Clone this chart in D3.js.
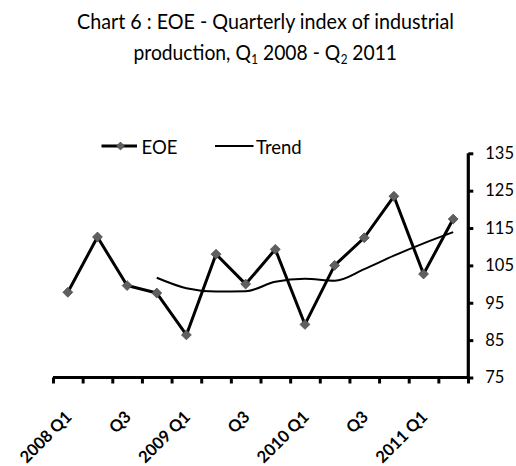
<!DOCTYPE html>
<html>
<head>
<meta charset="utf-8">
<script src="https://cdn.jsdelivr.net/npm/d3@7"></script>
<style>
  html, body { margin: 0; padding: 0; background: #fff; }
  svg { display: block; }
  text { font-family: Lato, "Open Sans", sans-serif; fill: #000; }
</style>
</head>
<body>
<div id="chart"></div>
<script>
// ---- Data ----
const categories = ["2008 Q1","2008 Q2","2008 Q3","2008 Q4",
                    "2009 Q1","2009 Q2","2009 Q3","2009 Q4",
                    "2010 Q1","2010 Q2","2010 Q3","2010 Q4",
                    "2011 Q1","2011 Q2"];
const tickLabels = ["2008 Q1","","Q3","","2009 Q1","","Q3","","2010 Q1","","Q3","","2011 Q1",""];
const eoeValues = [97.8, 112.6, 99.6, 97.6, 86.4, 108.0, 100.0, 109.3, 89.2, 105.0, 112.4, 123.5, 102.7, 117.4];
const trendValues = [null, null, null, 101.7, 98.9, 98.0, 98.1, 100.6, 101.4, 100.9, 104.0, 107.6, 110.9, 113.9];
const yTicks = [75, 85, 95, 105, 115, 125, 135];
const seriesNames = ["EOE", "Trend"];

// ---- Layout ----
const W = 516, H = 466;
const svg = d3.select("#chart").append("svg").attr("width", W).attr("height", H);

const x = d3.scaleBand().domain(categories).range([53, 468]).paddingInner(0).paddingOuter(0);
const xb = d3.scaleLinear().domain([0, categories.length]).range([53, 468]);
const y = d3.scaleLinear().domain([75, 135]).range([377.5, 153.3]);
const cx = c => x(c) + x.bandwidth() / 2;

// Title
const title = svg.append("g");
title.append("text").attr("x", 265.5).attr("y", 28.5).attr("text-anchor", "middle")
  .attr("font-size", 21.5).attr("textLength", 377).attr("lengthAdjust", "spacingAndGlyphs")
  .text("Chart 6 : EOE - Quarterly index of industrial");

// Line 2 built from separate pieces (main text + subscripts), laid out left to right
const line2 = [
  { t: "production, Q", sub: false, gap: 0 },
  { t: "1", sub: true, gap: 0 },
  { t: "2008 - Q", sub: false, gap: 5 },
  { t: "2", sub: true, gap: 0 },
  { t: "2011", sub: false, gap: 5 }
];
const l2 = title.append("g");
let cursor = 0;
line2.forEach(p => {
  cursor += p.gap;
  const el = l2.append("text").attr("y", p.sub ? 64 : 60)
    .attr("font-size", p.sub ? 13 : 21.5).text(p.t);
  const w = el.node().getComputedTextLength();
  el.attr("x", cursor);
  cursor += w + 0.5;
});
const targetW = 264;
const sx = targetW / cursor;
l2.attr("transform", `translate(${265.5 - targetW / 2},0) scale(${sx},1)`);

// X axis (ticks at category boundaries)
const xAxis = svg.append("g").attr("transform", "translate(0,377.5)")
  .call(d3.axisBottom(xb).tickValues(d3.range(categories.length + 1)).tickSize(6).tickFormat(""));
xAxis.select(".domain").attr("stroke", "#000").attr("stroke-width", 3.2).attr("d", "M53,0H468");
xAxis.selectAll(".tick line").attr("stroke", "#000").attr("stroke-width", 3);

// X labels
svg.append("g").selectAll("text").data(categories).join("text")
  .attr("text-anchor", "end")
  .attr("font-size", 16.5).attr("font-weight", "bold")
  .attr("transform", d => `translate(${cx(d) + 5},${418}) rotate(-45)`)
  .text((d, i) => tickLabels[i]);

// Y axis on right
const yAxis = svg.append("g").attr("transform", "translate(468.3,0)")
  .call(d3.axisRight(y).tickValues(yTicks).tickSize(5).tickPadding(12).tickFormat(d3.format("d")));
yAxis.select(".domain").attr("stroke", "#000").attr("stroke-width", 3.2).attr("d", "M0,153.3V379");
yAxis.selectAll(".tick line").attr("stroke", "#000").attr("stroke-width", 3);
yAxis.selectAll(".tick text").attr("font-size", 16.5).attr("font-family", "Lato, sans-serif").attr("fill", "#000");

// EOE line
const line = d3.line().x((d, i) => cx(categories[i])).y(d => y(d));
svg.append("path").datum(eoeValues)
  .attr("d", line).attr("fill", "none").attr("stroke", "#000").attr("stroke-width", 3)
  .attr("stroke-linejoin", "round");

// Trend line
const trendPts = trendValues.map((v, i) => ({ c: categories[i], v })).filter(d => d.v !== null);
svg.append("path").datum(trendPts)
  .attr("d", d3.line().x(d => cx(d.c)).y(d => y(d.v)).curve(d3.curveMonotoneX))
  .attr("fill", "none").attr("stroke", "#000").attr("stroke-width", 2);

// Markers (diamonds)
const diamond = d3.symbol().type(d3.symbolDiamond2).size(62);
svg.append("g").selectAll("path").data(eoeValues).join("path")
  .attr("d", diamond)
  .attr("transform", (d, i) => `translate(${cx(categories[i])},${y(d)})`)
  .attr("fill", "#5f5f5f").attr("stroke", "#4a4a4a").attr("stroke-width", 0.8);

// Legend
const lg = svg.append("g");
lg.append("line").attr("x1", 101.5).attr("x2", 137).attr("y1", 146).attr("y2", 146)
  .attr("stroke", "#000").attr("stroke-width", 3);
lg.append("path").attr("d", d3.symbol().type(d3.symbolDiamond2).size(40))
  .attr("transform", "translate(120.5,146)")
  .attr("fill", "#5f5f5f").attr("stroke", "#4a4a4a").attr("stroke-width", 0.8);
lg.append("text").attr("x", 141.5).attr("y", 154).attr("font-size", 18.5).text(seriesNames[0]);
lg.append("line").attr("x1", 215).attr("x2", 253.5).attr("y1", 146).attr("y2", 146)
  .attr("stroke", "#000").attr("stroke-width", 2);
lg.append("text").attr("x", 256).attr("y", 154).attr("font-size", 18.5).text(seriesNames[1]);
</script>
</body>
</html>
